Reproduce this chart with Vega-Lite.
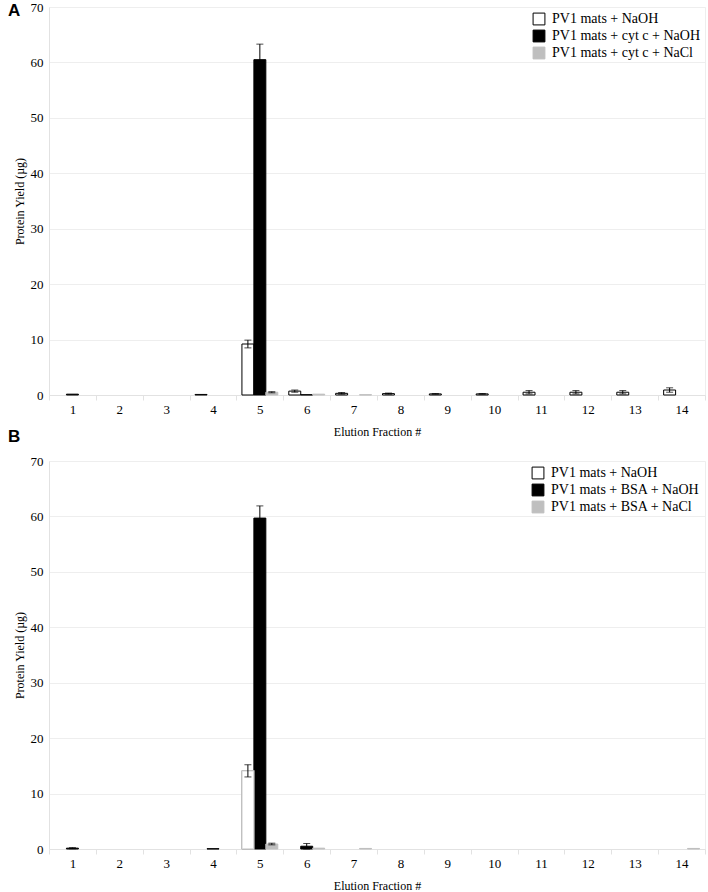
{
  "$schema": "https://vega.github.io/schema/vega-lite/v6.json",
  "padding": {"left": 7, "top": 0, "right": 2, "bottom": 0},
  "background": "white",
  "bounds": "flush",
  "spacing": 66,
  "config": {
    "font": "Liberation Serif",
    "view": {"stroke": "#eeeeee"},
    "axis": {
      "labelFont": "Liberation Serif", "labelFontSize": 13, "labelColor": "#000000",
      "titleFont": "Liberation Serif", "titleFontSize": 12, "titleFontWeight": "normal", "titleColor": "#000000",
      "domainColor": "#e2e2e2", "tickColor": "#e2e2e2", "gridColor": "#eeeeee"
    },
    "axisX": {"grid": false, "labelAngle": 0, "tickBand": "extent", "tickSize": 5, "labelPadding": 3, "titlePadding": 10},
    "axisY": {"grid": true, "ticks": false, "labelPadding": 6, "titlePadding": 4},
    "legend": {
      "orient": "top-right", "offset": 5, "title": null,
      "labelFont": "Liberation Serif", "labelFontSize": 14, "labelColor": "#000000", "labelLimit": 0,
      "symbolType": "square", "symbolSize": 140, "symbolStrokeWidth": 1, "rowPadding": 1, "labelOffset": 6
    },
    "title": {"font": "Liberation Sans", "fontSize": 17, "fontWeight": "bold", "color": "#000000", "anchor": "start", "frame": "group"}
  },
  "vconcat": [
    {
      "width": 656, "height": 388,
      "title": {"text": "A", "dx": -41, "offset": -19},
      "data": {"values": [
        {"fraction": 1, "series": "PV1 mats + cyt c + NaOH", "value": 0.15},
        {"fraction": 4, "series": "PV1 mats + NaOH", "value": 0.1},
        {"fraction": 5, "series": "PV1 mats + NaOH", "value": 9.2, "lo": 8.5, "hi": 9.9},
        {"fraction": 5, "series": "PV1 mats + cyt c + NaOH", "value": 60.5, "lo": 57.7, "hi": 63.3},
        {"fraction": 5, "series": "PV1 mats + cyt c + NaCl", "value": 0.5, "lo": 0.4, "hi": 0.6},
        {"fraction": 6, "series": "PV1 mats + NaOH", "value": 0.7, "lo": 0.5, "hi": 0.9},
        {"fraction": 6, "series": "PV1 mats + cyt c + NaOH", "value": 0.05},
        {"fraction": 6, "series": "PV1 mats + cyt c + NaCl", "value": 0.15},
        {"fraction": 7, "series": "PV1 mats + NaOH", "value": 0.3, "lo": 0.15, "hi": 0.45},
        {"fraction": 7, "series": "PV1 mats + cyt c + NaCl", "value": 0.05},
        {"fraction": 8, "series": "PV1 mats + NaOH", "value": 0.25, "lo": 0.15, "hi": 0.35},
        {"fraction": 9, "series": "PV1 mats + NaOH", "value": 0.2, "lo": 0.15, "hi": 0.25},
        {"fraction": 10, "series": "PV1 mats + NaOH", "value": 0.2, "lo": 0.15, "hi": 0.25},
        {"fraction": 11, "series": "PV1 mats + NaOH", "value": 0.5, "lo": 0.2, "hi": 0.8},
        {"fraction": 12, "series": "PV1 mats + NaOH", "value": 0.5, "lo": 0.2, "hi": 0.8},
        {"fraction": 13, "series": "PV1 mats + NaOH", "value": 0.5, "lo": 0.2, "hi": 0.8},
        {"fraction": 14, "series": "PV1 mats + NaOH", "value": 0.9, "lo": 0.5, "hi": 1.3}
      ]},
      "encoding": {
        "x": {"field": "fraction", "type": "ordinal", "title": "Elution Fraction #",
              "scale": {"domain": [1,2,3,4,5,6,7,8,9,10,11,12,13,14], "paddingInner": 0, "paddingOuter": 0}},
        "xOffset": {"field": "series", "type": "nominal",
              "scale": {"domain": ["PV1 mats + NaOH", "PV1 mats + cyt c + NaOH", "PV1 mats + cyt c + NaCl"], "paddingInner": 0, "paddingOuter": 0.46}}
      },
      "layer": [
        {
          "mark": {"type": "bar", "strokeWidth": 1},
          "encoding": {
            "y": {"field": "value", "type": "quantitative", "title": "Protein Yield (µg)", "scale": {"domain": [0, 70]},
                  "axis": {"values": [0, 10, 20, 30, 40, 50, 60, 70]}},
            "fill": {"field": "series", "type": "nominal",
                     "scale": {"domain": ["PV1 mats + NaOH", "PV1 mats + cyt c + NaOH", "PV1 mats + cyt c + NaCl"], "range": ["#ffffff", "#000000", "#bfbfbf"]}},
            "stroke": {"field": "series", "type": "nominal",
                     "scale": {"domain": ["PV1 mats + NaOH", "PV1 mats + cyt c + NaOH", "PV1 mats + cyt c + NaCl"], "range": ["#000000", "#000000", "#bfbfbf"]}}
          }
        },
        {
          "transform": [{"filter": "isValid(datum.hi)"}],
          "mark": {"type": "rule", "color": "#000000", "strokeWidth": 1},
          "encoding": {"y": {"field": "lo", "type": "quantitative"}, "y2": {"field": "hi"}}
        },
        {
          "transform": [{"filter": "isValid(datum.hi)"}],
          "mark": {"type": "tick", "orient": "horizontal", "size": 7, "thickness": 1, "color": "#000000"},
          "encoding": {"y": {"field": "hi", "type": "quantitative"}}
        },
        {
          "transform": [{"filter": "isValid(datum.hi)"}],
          "mark": {"type": "tick", "orient": "horizontal", "size": 7, "thickness": 1, "color": "#000000"},
          "encoding": {"y": {"field": "lo", "type": "quantitative"}}
        }
      ]
    },
    {
      "width": 656, "height": 388,
      "title": {"text": "B", "dx": -41, "offset": 9},
      "data": {"values": [
        {"fraction": 1, "series": "PV1 mats + BSA + NaOH", "value": 0.15, "lo": 0.05, "hi": 0.25},
        {"fraction": 4, "series": "PV1 mats + BSA + NaOH", "value": 0.05},
        {"fraction": 5, "series": "PV1 mats + NaOH", "value": 14.1, "lo": 13.0, "hi": 15.2},
        {"fraction": 5, "series": "PV1 mats + BSA + NaOH", "value": 59.7, "lo": 57.5, "hi": 61.9},
        {"fraction": 5, "series": "PV1 mats + BSA + NaCl", "value": 0.9, "lo": 0.75, "hi": 1.05},
        {"fraction": 6, "series": "PV1 mats + BSA + NaOH", "value": 0.5, "lo": 0.0, "hi": 1.0},
        {"fraction": 6, "series": "PV1 mats + BSA + NaCl", "value": 0.15},
        {"fraction": 7, "series": "PV1 mats + BSA + NaCl", "value": 0.1},
        {"fraction": 14, "series": "PV1 mats + BSA + NaCl", "value": 0.1}
      ]},
      "encoding": {
        "x": {"field": "fraction", "type": "ordinal", "title": "Elution Fraction #",
              "scale": {"domain": [1,2,3,4,5,6,7,8,9,10,11,12,13,14], "paddingInner": 0, "paddingOuter": 0}},
        "xOffset": {"field": "series", "type": "nominal",
              "scale": {"domain": ["PV1 mats + NaOH", "PV1 mats + BSA + NaOH", "PV1 mats + BSA + NaCl"], "paddingInner": 0, "paddingOuter": 0.46}}
      },
      "layer": [
        {
          "mark": {"type": "bar", "strokeWidth": 1},
          "encoding": {
            "y": {"field": "value", "type": "quantitative", "title": "Protein Yield (µg)", "scale": {"domain": [0, 70]},
                  "axis": {"values": [0, 10, 20, 30, 40, 50, 60, 70]}},
            "fill": {"field": "series", "type": "nominal",
                     "scale": {"domain": ["PV1 mats + NaOH", "PV1 mats + BSA + NaOH", "PV1 mats + BSA + NaCl"], "range": ["#ffffff", "#000000", "#bfbfbf"]}},
            "stroke": {"field": "series", "type": "nominal",
                     "scale": {"domain": ["PV1 mats + NaOH", "PV1 mats + BSA + NaOH", "PV1 mats + BSA + NaCl"], "range": ["#000000", "#000000", "#bfbfbf"]}}
          }
        },
        {
          "transform": [{"filter": "datum.series === 'PV1 mats + NaOH'"}],
          "mark": {"type": "bar", "fill": "#ffffff", "stroke": "#d6d6d6", "strokeWidth": 1.4},
          "encoding": {"y": {"field": "value", "type": "quantitative"}}
        },
        {
          "transform": [{"filter": "isValid(datum.hi)"}],
          "mark": {"type": "rule", "color": "#000000", "strokeWidth": 1},
          "encoding": {"y": {"field": "lo", "type": "quantitative"}, "y2": {"field": "hi"}}
        },
        {
          "transform": [{"filter": "isValid(datum.hi)"}],
          "mark": {"type": "tick", "orient": "horizontal", "size": 7, "thickness": 1, "color": "#000000"},
          "encoding": {"y": {"field": "hi", "type": "quantitative"}}
        },
        {
          "transform": [{"filter": "isValid(datum.hi)"}],
          "mark": {"type": "tick", "orient": "horizontal", "size": 7, "thickness": 1, "color": "#000000"},
          "encoding": {"y": {"field": "lo", "type": "quantitative"}}
        }
      ]
    }
  ],
  "resolve": {"scale": {"fill": "independent", "stroke": "independent", "xOffset": "independent"}, "legend": {"fill": "independent", "stroke": "independent"}}
}
